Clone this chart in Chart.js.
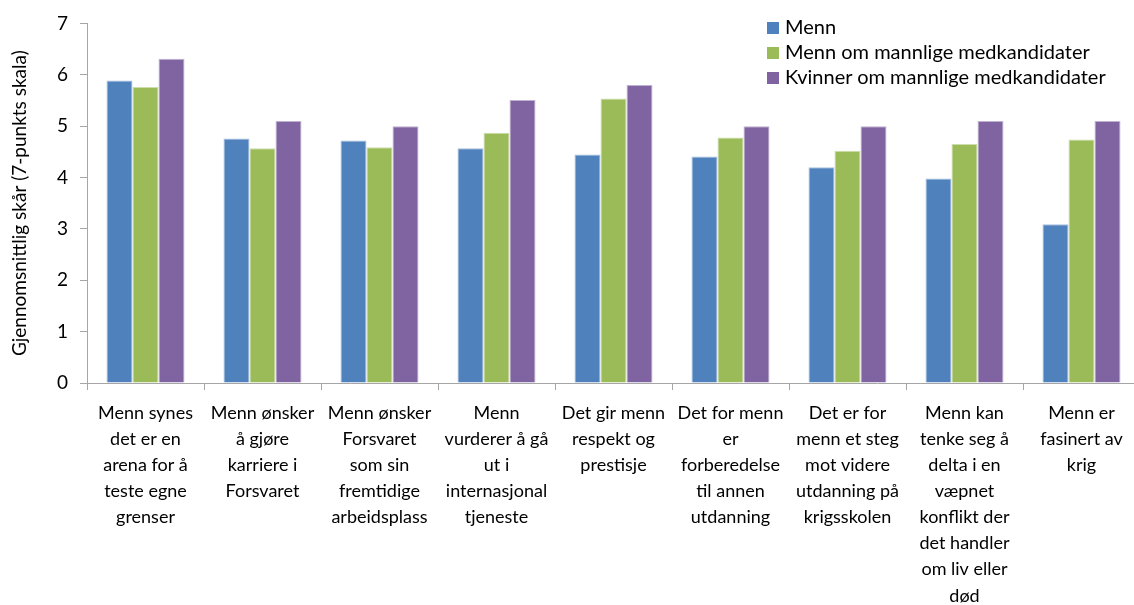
<!DOCTYPE html>
<html>
<head>
<meta charset="utf-8">
<script src="https://cdn.jsdelivr.net/npm/chart.js@4/dist/chart.umd.min.js"></script>
<style>
  html, body { margin: 0; padding: 0; background: #fff; overflow: hidden; }
  #wrap { position: relative; width: 1145px; height: 605px; }
  #legend { position: absolute; left: 767px; top: 14px; font-family: Lato, "Noto Sans", sans-serif; font-size: 20px; color: #000; }
  #legend div { height: 25px; line-height: 25px; white-space: nowrap; }
  #legend span.box { display: inline-block; width: 12px; height: 12px; margin-right: 6px; vertical-align: 0px; }
</style>
</head>
<body>
<div id="wrap">
  <canvas id="c" width="1145" height="605"></canvas>
  <div id="legend"></div>
</div>
<script>
const categories = [
  ["Menn synes","det er en","arena for å","teste egne","grenser"],
  ["Menn ønsker","å gjøre","karriere i","Forsvaret"],
  ["Menn ønsker","Forsvaret","som sin","fremtidige","arbeidsplass"],
  ["Menn","vurderer å gå","ut i","internasjonal","tjeneste"],
  ["Det gir menn","respekt og","prestisje"],
  ["Det for menn","er","forberedelse","til annen","utdanning"],
  ["Det er for","menn et steg","mot videre","utdanning på","krigsskolen"],
  ["Menn kan","tenke seg å","delta i en","væpnet","konflikt der","det handler","om liv eller","død"],
  ["Menn er","fasinert av","krig"]
];
const seriesNames = ["Menn", "Menn om mannlige medkandidater", "Kvinner om mannlige medkandidater"];
const menn = [5.89, 4.76, 4.72, 4.57, 4.45, 4.41, 4.20, 3.98, 3.09];
const mennOmMenn = [5.76, 4.57, 4.59, 4.87, 5.54, 4.78, 4.52, 4.65, 4.74];
const kvinnerOmMenn = [6.31, 5.10, 5.00, 5.51, 5.80, 5.00, 5.00, 5.10, 5.10];
const yTicks = [0, 1, 2, 3, 4, 5, 6, 7];
const yTitle = "Gjennomsnittlig skår (7-punkts skala)";

const colors = ["#4F81BD", "#9BBB59", "#8064A2"];
const borders = ["#A7BFDE", "#CDDDAC", "#BFB1D0"];
const FONT = "Lato, 'Noto Sans', sans-serif";

const values = [menn, mennOmMenn, kvinnerOmMenn];
const datasets = values.map((v, i) => ({
  label: seriesNames[i],
  data: v,
  backgroundColor: colors[i],
  borderColor: borders[i],
  borderWidth: 1,
  categoryPercentage: 0.667,
  barPercentage: 1.0
}));

new Chart(document.getElementById('c'), {
  type: 'bar',
  data: { labels: categories, datasets },
  options: {
    responsive: false,
    animation: false,
    layout: { padding: { left: 0, right: 5, top: 22, bottom: 0 } },
    plugins: { legend: { display: false }, tooltip: { enabled: false } },
    scales: {
      x: {
        grid: { display: true, drawOnChartArea: false, offset: true, color: '#A6A6A6', tickLength: 7, lineWidth: 1 },
        border: { display: true, color: '#A6A6A6', width: 1 },
        ticks: { autoSkip: false, maxRotation: 0, minRotation: 0, color: '#000', padding: 10,
                 font: { family: FONT, size: 18, lineHeight: 1.45 } },
        afterFit: (s) => { s.height = 222; }
      },
      y: {
        min: 0, max: 7,
        afterBuildTicks: (s) => { s.ticks = yTicks.map(v => ({ value: v })); },
        grid: { display: true, drawOnChartArea: false, color: '#A6A6A6', tickLength: 7 },
        border: { display: true, color: '#A6A6A6', width: 1 },
        ticks: { color: '#000', padding: 12, font: { family: FONT, size: 19 } },
        title: { display: true, text: yTitle, color: '#000', padding: { top: 8, bottom: 6 }, font: { family: FONT, size: 19 } },
        afterFit: (s) => { s.width = 87; }
      }
    }
  }
});

const lg = document.getElementById('legend');
seriesNames.forEach((n, i) => {
  const d = document.createElement('div');
  const b = document.createElement('span');
  b.className = 'box';
  b.style.background = colors[i];
  d.appendChild(b);
  d.appendChild(document.createTextNode(n));
  lg.appendChild(d);
});
</script>
</body>
</html>
